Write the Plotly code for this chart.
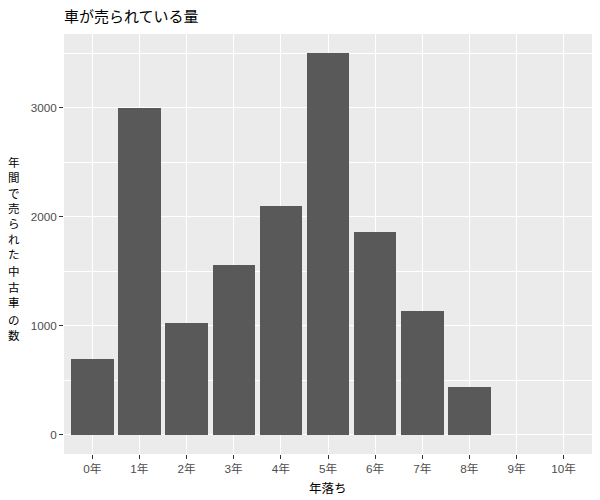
import plotly.graph_objects as go

categories = ["0年", "1年", "2年", "3年", "4年", "5年", "6年", "7年", "8年", "9年", "10年"]
counts = [700, 3000, 1030, 1560, 2100, 3500, 1860, 1140, 440, 0, 0]
y_ticks = [0, 1000, 2000, 3000]
title_text = "車が売られている量"
x_title = "年落ち"
y_title = "年間で売られた中古車の数"

FONT = "Liberation Sans, Arial, Noto Sans CJK JP, sans-serif"
CJK = "Noto Sans CJK JP, sans-serif"

W, H = 600, 500
L, R, T, B = 64, 8, 34, 46
PW, PH = W - L - R, H - T - B

def px_x(px):
    return (px - L) / PW

def px_y(py):
    return (H - B - py) / PH

fig = go.Figure()
fig.add_trace(go.Bar(
    x=categories, y=counts, width=0.9,
    marker=dict(color="#595959", line=dict(width=0)),
    hoverinfo="x+y",
))

fig.update_layout(
    width=W, height=H,
    margin=dict(l=L, r=R, t=T, b=B, autoexpand=False),
    paper_bgcolor="white",
    plot_bgcolor="#EBEBEB",
    font=dict(family=FONT, color="#000000"),
    showlegend=False,
    bargap=0,
    title=dict(text=title_text, x=0, xref="paper", xanchor="left",
               y=1 - 17 / H, yref="container", yanchor="middle",
               font=dict(size=15, color="#000000", family=CJK)),
)

fig.update_xaxes(
    type="category",
    categoryorder="array", categoryarray=categories,
    range=[-0.6, 10.6],
    automargin=False,
    showgrid=True, gridcolor="white", gridwidth=1.1,
    zeroline=False, showline=False,
    ticks="outside", ticklen=4, tickwidth=1.1, tickcolor="#333333",
    tickfont=dict(size=11.7, color="#4D4D4D", family=FONT),
)

fig.update_yaxes(
    range=[-175, 3675],
    automargin=False,
    tickvals=y_ticks, ticktext=[str(v) for v in y_ticks],
    showgrid=True, gridcolor="white", gridwidth=1.1,
    minor=dict(showgrid=True, gridcolor="white", gridwidth=0.5, tick0=0, dtick=500),
    zeroline=False, showline=False,
    ticks="outside", ticklen=4, tickwidth=1.1, tickcolor="#333333",
    tickfont=dict(size=11.7, color="#4D4D4D", family=FONT),
)

# x-axis title
fig.add_annotation(
    text=x_title, xref="paper", yref="paper",
    x=0.5, y=px_y(487), xanchor="center", yanchor="middle", showarrow=False,
    font=dict(size=12.5, color="#000000", family=CJK),
)

# y-axis title, one character per line (stacked vertically)
char_rows = [161.7, 177.3, 192.7, 207.7, 223.3, 239.3, 254.3, 270.7, 286.7, 301.7, 320.0, 335.0]
for ch, py in zip(y_title, char_rows):
    fig.add_annotation(
        text=ch, xref="paper", yref="paper",
        x=px_x(14), y=px_y(py), xanchor="center", yanchor="middle", showarrow=False,
        font=dict(size=11.5, color="#000000", family=CJK),
    )

fig.write_html(
    "out.html",
    config={"displayModeBar": False},
    post_script="document.body.style.margin='0';document.body.style.overflow='hidden';",
)
